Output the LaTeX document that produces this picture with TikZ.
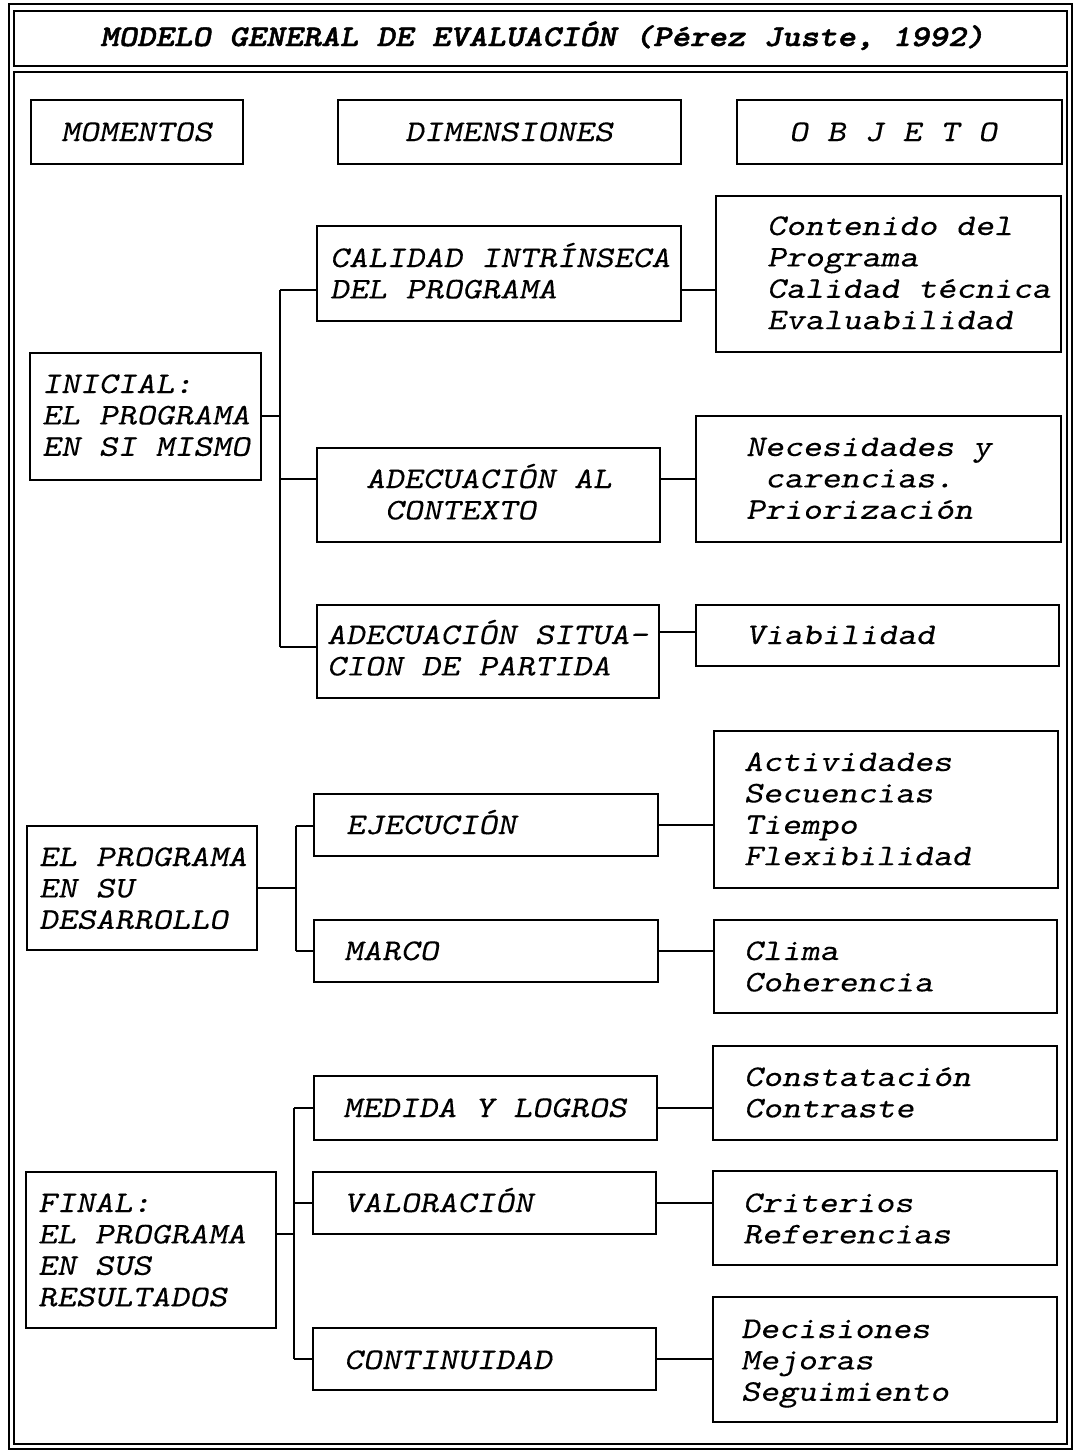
\documentclass[tikz,border=0pt]{standalone}
\usepackage{fontspec}
% typewriter faces, widened to a Courier-like pitch
\newfontfamily\bodyfam{lmmonoslant10-regular}[Extension=.otf, FakeStretch=1.2, FakeBold=0.25]
\newfontfamily\headfam{lmmonolt10-boldoblique}[Extension=.otf, FakeStretch=1.17, FakeBold=1.5]
\tikzset{
  frame/.style={draw, line width=2.6pt},
  box/.style={draw, line width=2.5pt, inner sep=0pt, outer sep=0pt},
  link/.style={draw, line width=2.5pt},
  txt/.style={anchor=north west, inner sep=0pt, outer sep=0pt, align=left,
    yshift=30pt, font=\bodyfam\fontsize{30}{31.4}\selectfont},
  titletxt/.style={anchor=base west, inner sep=0pt,
    font=\headfam\fontsize{30}{31}\selectfont},
}
% box given by its corners (x1,y1)-(x2,y2), y counted downwards
\newcommand\mkbox[5]{\node[box, minimum width={(#4-#2)*1pt}, minimum height={(#5-#3)*1pt}] (#1) at ({(#2+#4)/2},{(#3+#5)/2}) {};}
% text block: left edge and baseline of its first line
\newcommand\mktext[4]{\node[txt] (#1) at (#2,#3) {\rule{0pt}{30pt}#4};}
\begin{document}
\begin{tikzpicture}[x=1pt, y=-1pt]
\useasboundingbox (0,0) rectangle (1074,1451);

% outer double frame
\draw[frame] (9,4) rectangle (1072,1449);
\mkbox{titlebox}{14}{11}{1067}{66}
\draw[frame] (14,72) rectangle (1067,1444);
\node[titletxt] (title) at (100,46) {MODELO GENERAL DE EVALUACIÓN (Pérez Juste, 1992)};

% column headers
\mkbox{mom}{31}{100}{243}{164}
\mkbox{dim}{338}{100}{681}{164}
\mkbox{obj}{737}{100}{1062}{164}
\mktext{tmom}{61}{141}{MOMENTOS}
\mktext{tdim}{405}{141}{DIMENSIONES}
\mktext{tobj}{789}{141}{O B J E T O}

% momento inicial
\mkbox{ini}{30}{353}{261}{480}
\mkbox{cal}{317}{226}{681}{321}
\mkbox{con}{716}{196}{1061}{352}
\mkbox{ctx}{317}{448}{660}{542}
\mkbox{nec}{696}{416}{1061}{542}
\mkbox{sit}{317}{605}{659}{698}
\mkbox{via}{696}{605}{1059}{666}
\mktext{tini}{42}{393}{INICIAL:\\EL PROGRAMA\\EN SI MISMO}
\mktext{tcal}{330}{267}{CALIDAD INTRÍNSECA\\DEL PROGRAMA}
\mktext{tcon}{767}{235}{Contenido del\\Programa\\Calidad técnica\\Evaluabilidad}
\mktext{tctx}{366}{488}{ADECUACIÓN AL\\~CONTEXTO}
\mktext{tnec}{746}{456}{Necesidades y\\~carencias.\\Priorización}
\mktext{tsit}{327}{644}{ADECUACIÓN SITUA-\\CION DE PARTIDA}
\mktext{tvia}{746}{644}{Viabilidad}

\coordinate (a0) at (280,416);
\coordinate (a1) at (280,290);
\coordinate (a2) at (280,479);
\coordinate (a3) at (280,647);
\coordinate (ar3) at (0,632);
\draw[link] (ini.east |- a0) -- (a0);
\draw[link] (a1) -- (a3);
\draw[link] (a1) -- (a1 -| cal.west);
\draw[link] (a2) -- (a2 -| ctx.west);
\draw[link] (a3) -- (a3 -| sit.west);
\draw[link] (a1 -| cal.east) -- (a1 -| con.west);
\draw[link] (a2 -| ctx.east) -- (a2 -| nec.west);
\draw[link] (ar3 -| sit.east) -- (ar3 -| via.west);

% el programa en su desarrollo
\mkbox{des}{27}{826}{257}{950}
\mkbox{eje}{314}{794}{658}{856}
\mkbox{act}{714}{731}{1058}{888}
\mkbox{mar}{314}{920}{658}{982}
\mkbox{cli}{714}{920}{1057}{1013}
\mktext{tdes}{39}{866}{EL PROGRAMA\\EN SU\\DESARROLLO}
\mktext{teje}{346}{834}{EJECUCIÓN}
\mktext{tact}{744}{771}{Actividades\\Secuencias\\Tiempo\\Flexibilidad}
\mktext{tmar}{344}{960}{MARCO}
\mktext{tcli}{744}{960}{Clima\\Coherencia}

\coordinate (b0) at (296,888);
\coordinate (b1) at (296,826);
\coordinate (b2) at (296,951);
\draw[link] (des.east |- b0) -- (b0);
\draw[link] (b1) -- (b2);
\draw[link] (b1) -- (b1 -| eje.west);
\draw[link] (b2) -- (b2 -| mar.west);
\draw[link] (eje.east) -- (eje.east -| act.west);
\draw[link] (mar.east) -- (mar.east -| cli.west);

% final: el programa en sus resultados
\mkbox{fin}{26}{1172}{276}{1328}
\mkbox{med}{314}{1076}{657}{1140}
\mkbox{cst}{713}{1046}{1057}{1140}
\mkbox{val}{313}{1172}{656}{1234}
\mkbox{cri}{713}{1171}{1057}{1265}
\mkbox{cnt}{313}{1328}{656}{1390}
\mkbox{dec}{713}{1297}{1057}{1422}
\mktext{tfin}{38}{1212}{FINAL:\\EL PROGRAMA\\EN SUS\\RESULTADOS}
\mktext{tmed}{343}{1117}{MEDIDA Y LOGROS}
\mktext{tcst}{744}{1086}{Constatación\\Contraste}
\mktext{tval}{344}{1212}{VALORACIÓN}
\mktext{tcri}{743}{1212}{Criterios\\Referencias}
\mktext{tcnt}{344}{1369}{CONTINUIDAD}
\mktext{tdec}{741}{1338}{Decisiones\\Mejoras\\Seguimiento}

\coordinate (c0) at (294,1234);
\coordinate (c1) at (294,1108);
\coordinate (c2) at (294,1203);
\coordinate (c3) at (294,1359);
\draw[link] (fin.east |- c0) -- (c0);
\draw[link] (c1) -- (c3);
\draw[link] (c1) -- (c1 -| med.west);
\draw[link] (c2) -- (c2 -| val.west);
\draw[link] (c3) -- (c3 -| cnt.west);
\draw[link] (c1 -| med.east) -- (c1 -| cst.west);
\draw[link] (c2 -| val.east) -- (c2 -| cri.west);
\draw[link] (c3 -| cnt.east) -- (c3 -| dec.west);
\end{tikzpicture}
\end{document}
